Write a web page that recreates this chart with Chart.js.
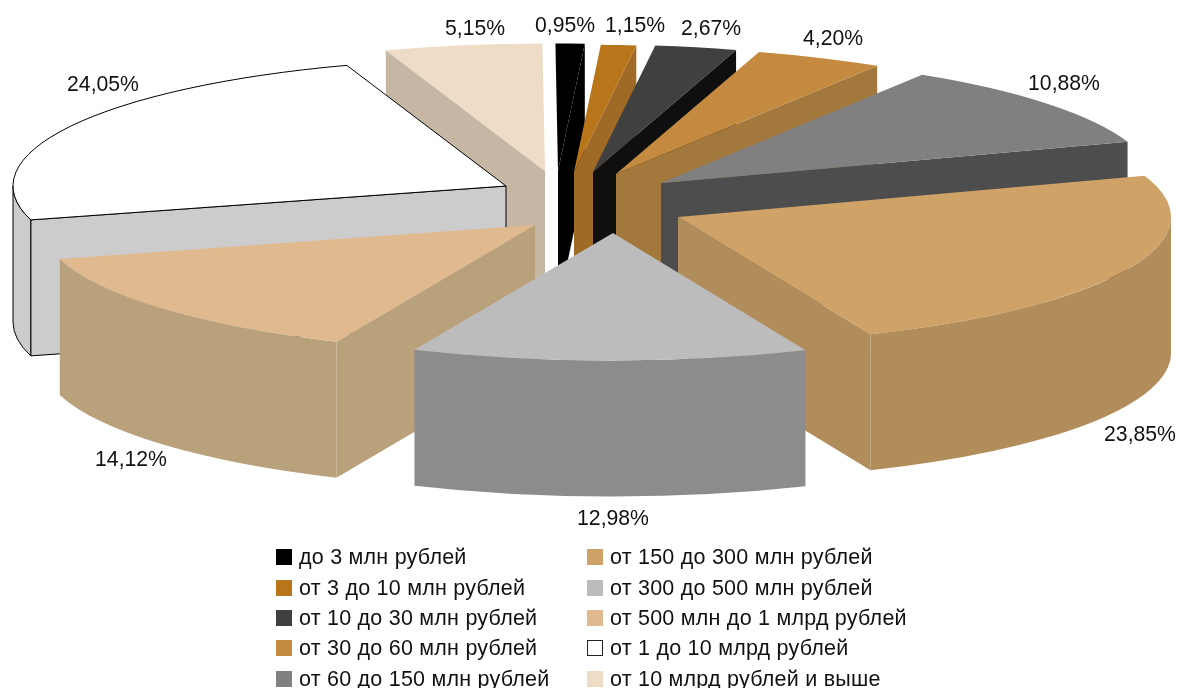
<!DOCTYPE html>
<html lang="ru">
<head>
<meta charset="utf-8">
<title>Распределение по размеру</title>
<script src="https://cdn.jsdelivr.net/npm/chart.js@4/dist/chart.umd.min.js"></script>
<style>
  html, body { margin: 0; padding: 0; background: #fff; overflow: hidden; }
  #wrap { position: relative; width: 1178px; height: 688px; overflow: hidden; }
  canvas { display: block; }
  .legend-item {
    position: absolute; white-space: nowrap; height: 24px;
    font: 21.5px/24px "Liberation Sans", Arial, sans-serif; letter-spacing: 0.23px; color: #111;
  }
  .legend-item i {
    position: absolute; left: 0; top: 4px; width: 16px; height: 16px; box-sizing: border-box;
  }
  .legend-item span { position: absolute; left: 23px; top: 0; }
</style>
</head>
<body>
<div id="wrap">
  <canvas id="chart" width="1178" height="688"></canvas>
</div>
<script>
"use strict";

// ---- Data ----

const categories = [
  "до 3 млн рублей",
  "от 3 до 10 млн рублей",
  "от 10 до 30 млн рублей",
  "от 30 до 60 млн рублей",
  "от 60 до 150 млн рублей",
  "от 150 до 300 млн рублей",
  "от 300 до 500 млн рублей",
  "от 500 млн до 1 млрд рублей",
  "от 1 до 10 млрд рублей",
  "от 10 млрд рублей и выше",
];
const shares = [0.95, 1.15, 2.67, 4.20, 10.88, 23.85, 12.98, 14.12, 24.05, 5.15];

// ---- Styles ----

const topColors = ["#000000", "#b8751a", "#404040", "#c48a3f", "#808080",
                   "#cfa267", "#bcbcbc", "#e0b98f", "#ffffff", "#efdcc6"];
const wallColors = ["#000000", "#9f6a25", "#0f0f0f", "#a3783d", "#4d4d4d",
                    "#b18d5b", "#8c8c8c", "#b9a17c", "#cccccc", "#c6b7a5"];
const outlined = [8];                         // only the white slice has a black edge

// ---- Pseudo-3D layout ----

const RADIUS = 493;
const TILT = 0.2586;                          // squash of the pie plane
const DEPTH = 136;
// per-slice explode offset (x, y) from the pie centre
const shiftX = [-42, -26, -7, 16, 61, 78, 13, -65, -94, -55];
const shiftY = [-19, -18, -18, -16, -7, 27, 43, 35, -4, -19];
// back to front
const drawOrder = [9, 0, 1, 2, 3, 4, 8, 5, 7, 6];
// value label centres
const labelX = [565, 635, 711, 833, 1064, 1140, 613, 131, 103, 475];
const labelY = [26, 26, 29, 39, 84, 435, 519, 460, 85, 29];

function formatShare(v) {
  return v.toFixed(2).replace(".", ",") + "%";
}

function sliceWalls(ctx, arc, i) {
  const ry = RADIUS * TILT;
  const cx = arc.x + shiftX[i];
  const cy = arc.y + shiftY[i];
  const a0 = arc.startAngle;
  const a1 = arc.endAngle;
  const stroke = outlined.includes(i);

  const finish = () => {
    ctx.closePath();
    ctx.fillStyle = wallColors[i];
    ctx.fill();
    if (stroke) { ctx.lineWidth = 1; ctx.strokeStyle = "#000"; ctx.stroke(); }
  };

  // radial walls, only the ones that face the viewer
  // (small margin: the pie is turned a hair, the edge at 12 o'clock stays edge-on)
  for (const [a, visible] of [[a0, Math.cos(a0) < -0.02], [a1, Math.cos(a1) > 0.02]]) {
    if (!visible) continue;
    const ex = cx + RADIUS * Math.cos(a);
    const ey = cy + ry * Math.sin(a);
    ctx.beginPath();
    ctx.moveTo(cx, cy);
    ctx.lineTo(ex, ey);
    ctx.lineTo(ex, ey + DEPTH);
    ctx.lineTo(cx, cy + DEPTH);
    finish();
  }

  // outer rim, front half only
  const from = Math.max(a0, 0);
  const to = Math.min(a1, Math.PI);
  if (to > from) {
    ctx.beginPath();
    ctx.ellipse(cx, cy, RADIUS, ry, 0, from, to);
    ctx.ellipse(cx, cy + DEPTH, RADIUS, ry, 0, to, from, true);
    finish();
  }
}

function sliceTop(ctx, arc, i) {
  const ry = RADIUS * TILT;
  const cx = arc.x + shiftX[i];
  const cy = arc.y + shiftY[i];
  ctx.save();
  ctx.translate(cx, cy);
  ctx.scale(1, TILT);
  ctx.translate(-arc.x, -arc.y);
  arc.draw(ctx);
  ctx.restore();
  if (outlined.includes(i)) {
    ctx.beginPath();
    ctx.moveTo(cx, cy);
    ctx.ellipse(cx, cy, RADIUS, ry, 0, arc.startAngle, arc.endAngle);
    ctx.closePath();
    ctx.lineWidth = 1;
    ctx.strokeStyle = "#000";
    ctx.stroke();
  }
}

const pie3d = {
  id: "pie3d",
  beforeDatasetDraw(chart, args) {
    const ctx = chart.ctx;
    const arcs = args.meta.data;
    for (const i of drawOrder) {
      ctx.save();
      sliceWalls(ctx, arcs[i], i);
      sliceTop(ctx, arcs[i], i);
      ctx.restore();
    }
    return false;
  },
  afterDraw(chart) {
    const ctx = chart.ctx;
    ctx.save();
    ctx.font = '21.2px "Liberation Sans", Arial, sans-serif';
    ctx.fillStyle = "#111";
    ctx.textAlign = "center";
    ctx.textBaseline = "middle";
    shares.forEach((v, i) => ctx.fillText(formatShare(v), labelX[i], labelY[i]));
    ctx.restore();
  },
};

new Chart(document.getElementById("chart"), {
  type: "pie",
  data: {
    labels: categories,
    datasets: [{ data: shares, backgroundColor: topColors, borderWidth: 0, radius: RADIUS }],
  },
  options: {
    responsive: false,
    animation: false,
    events: [],
    rotation: -0.3,
    layout: { padding: { left: 22, bottom: 308 } },
    plugins: { legend: { display: false }, tooltip: { enabled: false } },
  },
  plugins: [pie3d],
});

// ---- Legend, two columns filled top to bottom ----

const wrap = document.getElementById("wrap");
const legendCols = [276, 587];
const legendRows = [545, 575.5, 606, 636, 667];
categories.forEach((name, i) => {
  const col = Math.floor(i / 5);
  const item = document.createElement("div");
  item.className = "legend-item";
  item.style.left = legendCols[col] + "px";
  item.style.top = legendRows[i % 5] + "px";
  const box = document.createElement("i");
  box.style.background = topColors[i];
  if (outlined.includes(i)) box.style.border = "1px solid #222";
  const text = document.createElement("span");
  text.textContent = name;
  item.append(box, text);
  wrap.appendChild(item);
});
</script>
</body>
</html>
